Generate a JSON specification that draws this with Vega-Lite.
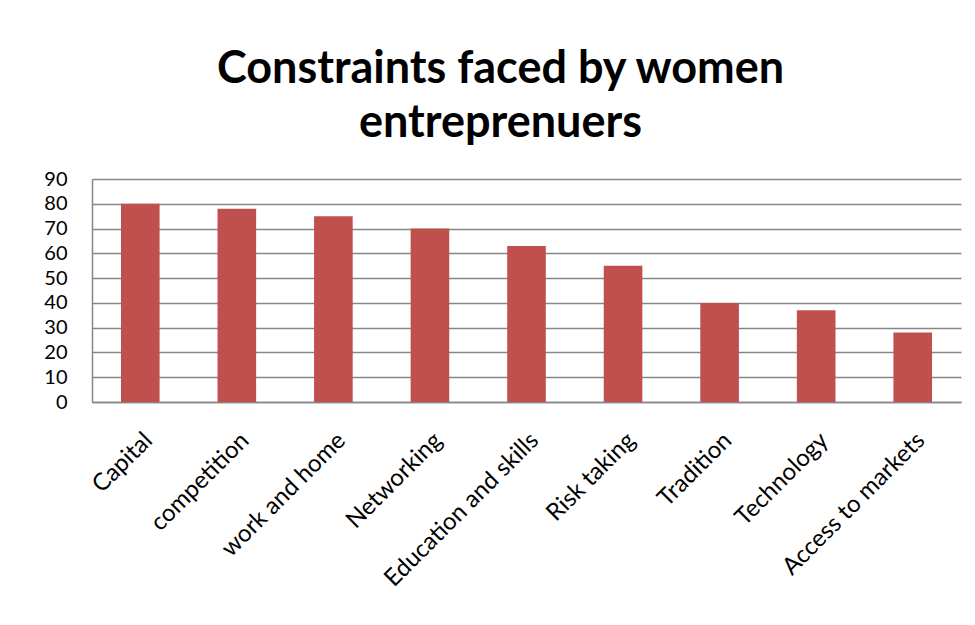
{
  "$schema": "https://vega.github.io/schema/vega-lite/v6.json",
  "width": 869,
  "height": 223,
  "autosize": {"type": "none"},
  "padding": {"left": 92, "top": 179, "right": 14, "bottom": 223},
  "background": "white",
  "title": {
    "text": ["Constraints faced by women", "entreprenuers"],
    "font": "Lato",
    "fontSize": 45,
    "fontWeight": "bold",
    "color": "#000000",
    "anchor": "middle",
    "dx": -26,
    "offset": 23,
    "lineHeight": 54
  },
  "data": {
    "values": [
      {"constraint": "Capital", "value": 80},
      {"constraint": "competition", "value": 78},
      {"constraint": "work and home", "value": 75},
      {"constraint": "Networking", "value": 70},
      {"constraint": "Education and skills", "value": 63},
      {"constraint": "Risk taking", "value": 55},
      {"constraint": "Tradition", "value": 40},
      {"constraint": "Technology", "value": 37},
      {"constraint": "Access to markets", "value": 28}
    ]
  },
  "mark": {"type": "bar", "color": "#C0504D"},
  "encoding": {
    "x": {
      "field": "constraint",
      "type": "nominal",
      "sort": null,
      "scale": {"paddingInner": 0.6, "paddingOuter": 0.3},
      "axis": {
        "title": null,
        "labelAngle": -45,
        "labelFont": "Lato",
        "labelFontSize": 24,
        "labelColor": "#000000",
        "labelPadding": 26,
        "ticks": false,
        "domainColor": "#868686",
        "domainWidth": 1.5,
        "labelLimit": 300
      }
    },
    "y": {
      "field": "value",
      "type": "quantitative",
      "scale": {"domain": [0, 90], "nice": false},
      "axis": {
        "title": null,
        "values": [0, 10, 20, 30, 40, 50, 60, 70, 80, 90],
        "labelFont": "Lato",
        "labelFontSize": 20,
        "labelColor": "#000000",
        "labelPadding": 25,
        "ticks": false,
        "grid": true,
        "gridColor": "#868686",
        "gridWidth": 1.5,
        "domainColor": "#868686",
        "domainWidth": 1.5
      }
    }
  },
  "config": {
    "view": {"stroke": null}
  }
}
